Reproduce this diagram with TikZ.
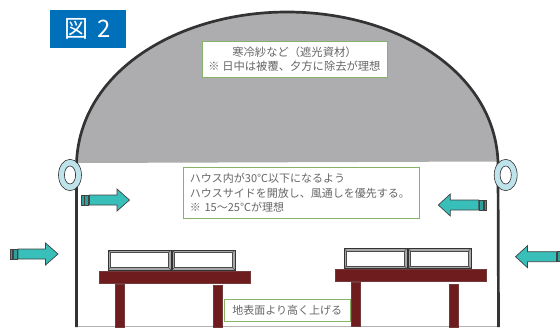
\documentclass[tikz,border=0pt]{standalone}
\usepackage{fontspec}
\setmainfont{Noto Sans CJK JP}
\definecolor{roofgray}{HTML}{ADACAE}
\definecolor{wallc}{HTML}{333333}
\definecolor{titleblue}{HTML}{0070BB}
\definecolor{boxgreen}{HTML}{86B26A}
\definecolor{txtgray}{HTML}{666666}
\definecolor{ringc}{HTML}{BEE3EA}
\definecolor{arrowc}{HTML}{38BFBA}
\definecolor{stripec}{HTML}{2E9F9B}
\definecolor{woodc}{HTML}{6E1C1E}
\definecolor{trayc}{HTML}{A8A8A8}
\tikzset{
  note/.style={draw=boxgreen,line width=0.9pt,fill=white,inner sep=0pt,text=txtgray,font=\fontsize{11}{14.3}\selectfont},
  wall/.style={draw=wallc,line width=2.7pt},
  ringp/.style={fill=ringc,even odd rule},
  ringl/.style={draw=wallc,line width=0.6pt},
  wood/.style={fill=woodc,draw=woodc!70!gray,line width=0.5pt},
  flow/.style={fill=arrowc,draw=wallc!80!gray,line width=0.7pt,line join=miter},
  stripe/.style={fill=stripec,draw=wallc!80!gray,line width=0.6pt},
  trayo/.style={fill=trayc,draw=wallc,line width=0.7pt},
  trayi/.style={fill=white,draw=wallc!70!gray,line width=0.5pt},
}
\newcommand{\flowR}[2]{%
  \path[stripe] (#1,#2-5) rectangle ++(2.4,10);
  \path[stripe] (#1+3.2,#2-5) rectangle ++(3.6,10);
  \draw[flow] (#1+8,#2-5) -- ++(27.5,0) -- ++(0,-6) -- ++(12.5,11) -- ++(-12.5,11) -- ++(0,-6) -- ++(-27.5,0) -- cycle;}
\newcommand{\flowL}[3]{%
  \draw[flow] (#1,#2) -- ++(12,-11) -- ++(0,6) -- ++(#3,0) -- ++(0,10) -- ++(-#3,0) -- ++(0,6) -- cycle;
  \path[stripe] (#1+12+#3+0.8,#2-5) rectangle ++(3.6,10);
  \path[stripe] (#1+12+#3+5,#2-5) rectangle ++(2.4,10);}
\newcommand{\tray}[2]{%
  \draw[trayo] (#1,#2) rectangle ++(63,20);
  \draw[trayi] (#1+2.5,#2+2.5) rectangle ++(58,15);
  \draw[wallc!70!gray,line width=0.4pt] (#1,#2) -- ++(2.5,2.5) (#1+63,#2) -- ++(-2.5,2.5) (#1,#2+20) -- ++(2.5,-2.5) (#1+63,#2+20) -- ++(-2.5,-2.5);}
\begin{document}
\begin{tikzpicture}[x=1pt,y=-1pt]
\useasboundingbox (0,0) rectangle (560,327);
% roof
\fill[roofgray] (76.5,163) .. controls (80,70) and (180,12) .. (287,12) .. controls (395,12) and (494,70) .. (498,161.5) -- cycle;
\draw[draw=black!30,line width=0.8pt] (76.5,326.2) -- (498,326.2);
\draw[wall,line cap=butt] (76.5,327) -- (76.5,163) .. controls (80,70) and (180,12) .. (287,12) .. controls (395,12) and (494,70) .. (498,161.5) -- (498.5,327);
% title
\node[fill=titleblue,text=white,minimum width=76pt,minimum height=38pt,inner sep=0pt,font=\fontsize{24}{24}\selectfont] (title) at (88,29) {図\hspace{9pt}2};
% rings
\path[ringp] (70,175) ellipse [x radius=11.5,y radius=15.7] (70,175) ellipse [x radius=5.6,y radius=9];
\path[ringl] (70,175) ellipse [x radius=11.5,y radius=15.7] (70,175) ellipse [x radius=5.6,y radius=9];
\path[ringp] (505.7,175) ellipse [x radius=11.5,y radius=15.7] (505.7,175) ellipse [x radius=5.6,y radius=9];
\path[ringl] (505.7,175) ellipse [x radius=11.5,y radius=15.7] (505.7,175) ellipse [x radius=5.6,y radius=9];
% arrows
\flowR{81.5}{200}
\flowR{10}{254}
\flowL{438.3}{205}{28.5}
\flowL{515.5}{256.7}{29}
% left bench
\tray{108}{250}
\tray{172}{250}
\draw[wood] (115.5,284) rectangle (124,327);
\draw[wood] (213.5,285) rectangle (222,327);
\draw[wood] (99,271) rectangle (250,283);
% right bench
\tray{344}{248.5}
\tray{408}{248.5}
\draw[wood] (351.5,282) rectangle (360,326);
\draw[wood] (449.5,284) rectangle (458,327);
\draw[wood] (335,269.5) rectangle (486,281.5);
% notes
\node[note,font=\fontsize{11.3}{14.3}\selectfont,minimum width=185pt,minimum height=36pt,align=center] (top) at (294.5,59) {寒冷紗など（遮光資材）\\※ 日中は被覆、夕方に除去が理想};
\node[note,minimum width=236pt,minimum height=51pt,align=left,anchor=west,text width=236pt,inner sep=0pt] (mid) at (183,192.7) {\hspace*{6.5pt}ハウス内が30℃以下になるよう\\\hspace*{6.5pt}ハウスサイドを開放し、風通しを優先する。\\\hspace*{6.5pt}※ 15〜25℃が理想};
\node[note,minimum width=125.5pt,minimum height=22pt,align=center] (low) at (287.3,310.7) {地表面より高く上げる};
\end{tikzpicture}
\end{document}
